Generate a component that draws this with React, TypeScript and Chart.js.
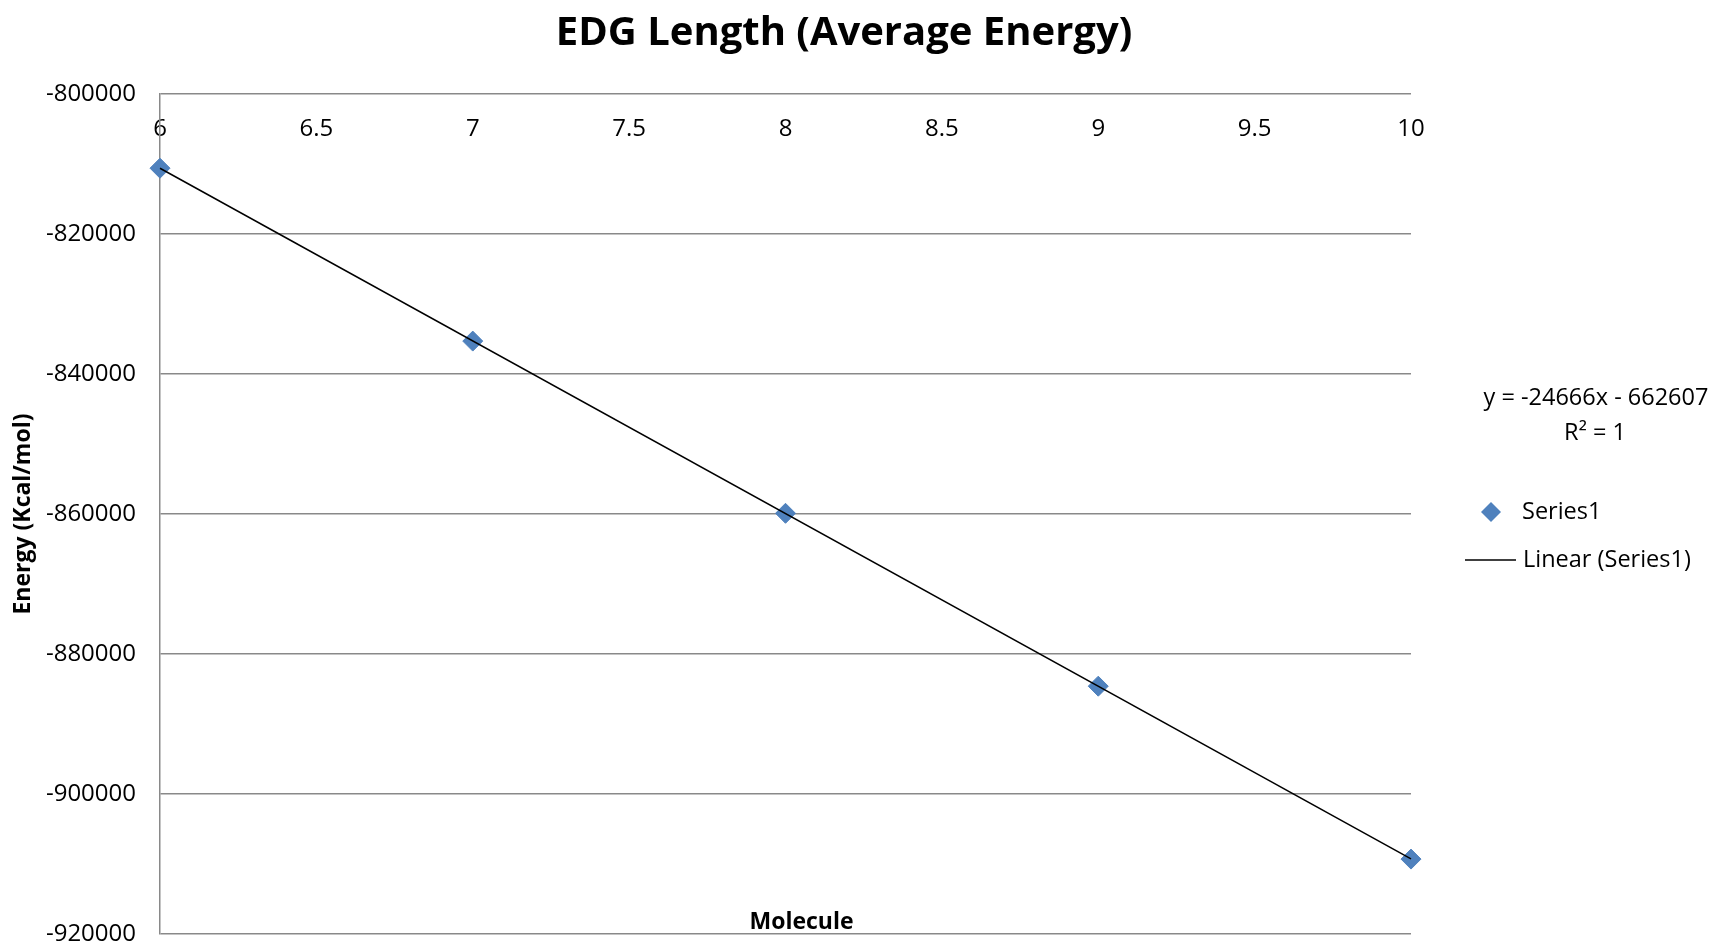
import React, { useEffect, useRef } from "react";
import { Chart, registerables } from "chart.js";

Chart.register(...registerables);

const chartTitle = "EDG Length (Average Energy)";
const xAxisTitle = "Molecule";
const yAxisTitle = "Energy (Kcal/mol)";
const seriesName = "Series1";
const trendName = "Linear (Series1)";
const trendEquation = "y = -24666x - 662607";
const trendR2 = "R² = 1";

const moleculeX = [6, 7, 8, 9, 10];
const energyY = [-810600, -835300, -859900, -884600, -909300];
const trendX = [6, 10];
const trendY = [-810603, -909267];

const xMin = 6;
const xMax = 10;
const xStep = 0.5;
const yMin = -920000;
const yMax = -800000;
const yStep = 20000;

const FONT = "'Open Sans', 'Noto Sans', sans-serif";
const MARKER = "#4F81BD";
const GRID = "#898989";

const overlayPlugin = {
  id: "overlay",
  afterDraw(chart: any) {
    const { ctx, chartArea } = chart;
    ctx.save();
    ctx.fillStyle = "#000";
    ctx.textAlign = "center";
    ctx.textBaseline = "middle";
    ctx.font = `bold 23px ${FONT}`;
    ctx.fillText(xAxisTitle, (chartArea.left + chartArea.right) / 2 + 16, chartArea.bottom - 12);

    const lx = chartArea.right;
    const ty = chartArea.top;
    ctx.font = `23.5px ${FONT}`;
    ctx.fillText(trendEquation, lx + 185, ty + 304);
    ctx.fillText(trendR2, lx + 184, ty + 339);

    // Series1 marker
    const mx = lx + 80;
    const my = ty + 418;
    ctx.fillStyle = MARKER;
    ctx.beginPath();
    ctx.moveTo(mx, my - 10);
    ctx.lineTo(mx + 10, my);
    ctx.lineTo(mx, my + 10);
    ctx.lineTo(mx - 10, my);
    ctx.closePath();
    ctx.fill();
    ctx.fillStyle = "#000";
    ctx.textAlign = "left";
    ctx.fillText(seriesName, lx + 111, my);

    // Linear line
    const ly = ty + 466;
    ctx.strokeStyle = "#000";
    ctx.lineWidth = 1.5;
    ctx.beginPath();
    ctx.moveTo(lx + 54, ly);
    ctx.lineTo(lx + 105, ly);
    ctx.stroke();
    ctx.fillText(trendName, lx + 112, ly);
    ctx.restore();
  },
};

export default function App() {
  const canvasRef = useRef<HTMLCanvasElement | null>(null);

  useEffect(() => {
    if (!canvasRef.current) return;
    const chart = new Chart(canvasRef.current, {
      type: "scatter",
      data: {
        datasets: [
          {
            label: trendName,
            data: trendX.map((x, i) => ({ x, y: trendY[i] })),
            showLine: true,
            borderColor: "#000",
            borderWidth: 1.5,
            pointRadius: 0,
            clip: false,
            order: 0,
          } as any,
          {
            label: seriesName,
            data: moleculeX.map((x, i) => ({ x, y: energyY[i] })),
            pointStyle: "rectRot",
            pointRadius: 10,
            backgroundColor: MARKER,
            borderColor: MARKER,
            borderWidth: 1,
            clip: false,
            order: 1,
          } as any,
        ],
      },
      options: {
        animation: false,
        responsive: true,
        maintainAspectRatio: false,
        layout: { padding: { left: 0, right: 23, top: 0, bottom: 10 } },
        plugins: {
          legend: { display: false },
          tooltip: { enabled: false },
          title: {
            display: true,
            text: chartTitle,
            color: "#000",
            font: { family: FONT, size: 40, weight: "bold" },
            padding: { top: 10, bottom: 36 },
          },
        },
        scales: {
          x: {
            type: "linear",
            position: { y: yMax } as any,
            min: xMin,
            max: xMax,
            ticks: {
              stepSize: xStep,
              autoSkip: false,
              maxRotation: 0,
              padding: 21,
              color: "#000",
              font: { family: FONT, size: 24 },
              callback: (v: any) => String(v),
            },
            grid: { display: false, drawTicks: false },
            border: { display: false },
          },
          y: {
            type: "linear",
            min: yMin,
            max: yMax,
            ticks: {
              stepSize: yStep,
              padding: 24,
              color: "#000",
              font: { family: FONT, size: 24 },
              callback: (v: any) => String(v),
            },
            grid: { color: GRID, lineWidth: 1.5, drawTicks: false },
            border: { display: true, color: GRID, width: 1.5 },
            title: {
              display: true,
              text: yAxisTitle,
              color: "#000",
              font: { family: FONT, size: 23, weight: "bold" },
              padding: { top: 10, bottom: 0 },
            },
            afterFit: (s: any) => {
              s.width = 160;
              s.paddingTop = 0;
              s.paddingBottom = 0;
            },
          },
          yLegendSpace: {
            type: "linear",
            position: "right",
            display: true,
            ticks: { display: false },
            grid: { display: false, drawTicks: false },
            border: { display: false },
            afterFit: (s: any) => {
              s.width = 277;
              s.paddingTop = 0;
              s.paddingBottom = 0;
            },
          },
        },
      },
      plugins: [overlayPlugin],
    });
    return () => chart.destroy();
  }, []);

  return (
    <div style={{ position: "absolute", left: 0, top: 0, width: 1711, height: 945, background: "#fff" }}>
      <canvas ref={canvasRef} />
    </div>
  );
}
